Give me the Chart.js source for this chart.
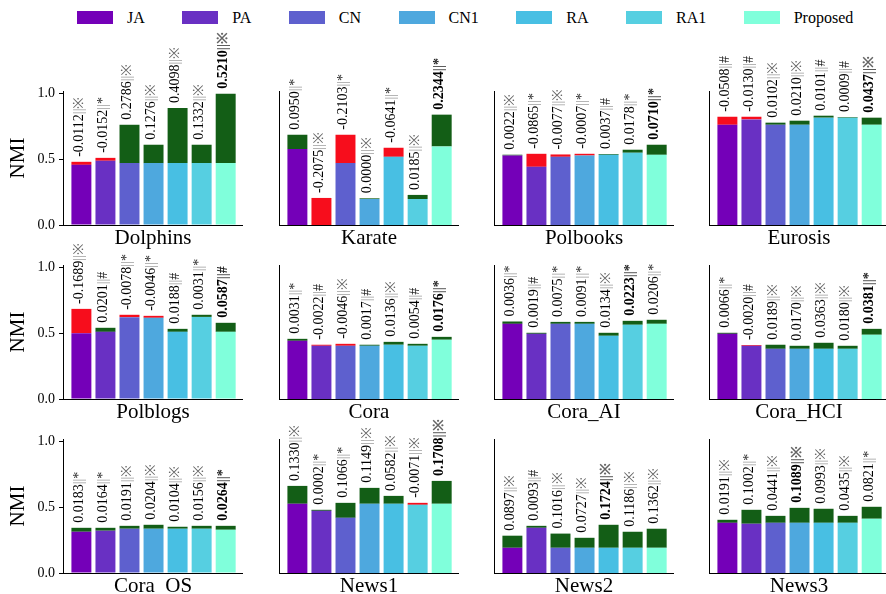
<!DOCTYPE html>
<html>
<head>
<meta charset="utf-8">
<script src="https://cdn.jsdelivr.net/npm/chart.js@4.4.1/dist/chart.umd.min.js"></script>
<style>
  body { margin: 0; width: 886px; height: 594px; overflow: hidden; background: #fff; position: relative; font-family: "Liberation Serif", "Times New Roman", Times, "DejaVu Serif", serif; }
  #legend { position: absolute; left: 77px; top: 8px; display: flex; font-size: 16px; line-height: 19px; color: #000; }
  .item { display: flex; align-items: center; margin-right: 37.5px; }
  .sw { display: inline-block; width: 36px; height: 13px; margin-right: 14px; }
  .panel { position: absolute; }
</style>
</head>
<body>
<div id="legend"></div>
<script>
// methods and colours
const methods = ["JA", "PA", "CN", "CN1", "RA", "RA1", "Proposed"];
const methodColors = ["#7400B8", "#6930C3", "#5E60CE", "#4EA8DE", "#48BFE3", "#56CFE1", "#80FFDB"];
const gainColor = "#135E16";
const lossColor = "#F70D1C";

const networks = ["Dolphins", "Karate", "Polbooks", "Eurosis", "Polblogs", "Cora",
                  "Cora_AI", "Cora_HCI", "Cora_OS", "News1", "News2", "News3"];

// lower part of every bar (NMI)
const baseNMI = [
  [0.458, 0.489, 0.471, 0.471, 0.471, 0.471, 0.471],
  [0.578, 0.000, 0.471, 0.198, 0.519, 0.198, 0.598],
  [0.529, 0.443, 0.519, 0.529, 0.534, 0.550, 0.534],
  [0.763, 0.804, 0.763, 0.763, 0.817, 0.817, 0.763],
  [0.501, 0.511, 0.623, 0.618, 0.511, 0.625, 0.511],
  [0.443, 0.405, 0.405, 0.405, 0.413, 0.405, 0.451],
  [0.572, 0.496, 0.572, 0.572, 0.481, 0.565, 0.572],
  [0.496, 0.405, 0.382, 0.382, 0.382, 0.382, 0.489],
  [0.314, 0.322, 0.337, 0.337, 0.337, 0.337, 0.329],
  [0.527, 0.473, 0.420, 0.527, 0.527, 0.519, 0.527],
  [0.192, 0.344, 0.192, 0.192, 0.192, 0.192, 0.192],
  [0.382, 0.375, 0.382, 0.382, 0.382, 0.382, 0.413]
];
// top of every bar (NMI)
const topNMI = [
  [0.481, 0.511, 0.763, 0.611, 0.891, 0.611, 1.000],
  [0.687, 0.206, 0.687, 0.203, 0.588, 0.229, 0.840],
  [0.535, 0.542, 0.537, 0.542, 0.540, 0.573, 0.611],
  [0.824, 0.824, 0.779, 0.794, 0.832, 0.822, 0.817],
  [0.686, 0.542, 0.641, 0.633, 0.534, 0.641, 0.580],
  [0.458, 0.413, 0.420, 0.413, 0.435, 0.420, 0.473],
  [0.590, 0.504, 0.587, 0.587, 0.504, 0.595, 0.603],
  [0.504, 0.411, 0.413, 0.405, 0.428, 0.405, 0.534],
  [0.344, 0.344, 0.359, 0.367, 0.352, 0.359, 0.359],
  [0.663, 0.481, 0.534, 0.648, 0.587, 0.534, 0.701],
  [0.284, 0.359, 0.300, 0.268, 0.367, 0.314, 0.337],
  [0.405, 0.481, 0.435, 0.496, 0.489, 0.435, 0.504]
];
// printed gain above each bar
const gains = [
  [-0.0112, -0.0152, 0.2786, 0.1276, 0.4098, 0.1332, 0.5210],
  [0.0950, -0.2075, -0.2103, 0.0000, -0.0641, 0.0185, 0.2344],
  [0.0022, -0.0865, -0.0077, -0.0007, 0.0037, 0.0178, 0.0710],
  [-0.0508, -0.0130, 0.0102, 0.0210, 0.0101, 0.0009, 0.0437],
  [-0.1689, 0.0201, -0.0078, -0.0046, 0.0188, 0.0031, 0.0587],
  [0.0031, -0.0022, -0.0046, 0.0017, 0.0136, 0.0054, 0.0176],
  [0.0036, 0.0019, 0.0075, 0.0091, 0.0134, 0.0223, 0.0206],
  [0.0066, -0.0020, 0.0189, 0.0170, 0.0363, 0.0180, 0.0381],
  [0.0183, 0.0164, 0.0191, 0.0204, 0.0104, 0.0156, 0.0264],
  [0.1330, 0.0002, 0.1066, 0.1149, 0.0582, -0.0071, 0.1708],
  [0.0897, 0.0093, 0.1016, 0.0727, 0.1724, 0.1186, 0.1362],
  [0.0191, 0.1002, 0.0441, 0.1089, 0.0993, 0.0435, 0.0821]
];
// significance marks
const marks = [
  ["※", "*", "※", "※", "※", "※", "※"],
  ["*", "※", "*", "※", "*", "※", "*"],
  ["※", "*", "※", "*", "#", "*", "*"],
  ["#", "#", "※", "※", "#", "#", "※"],
  ["※", "#", "*", "*", "#", "*", "#"],
  ["*", "#", "※", "#", "※", "#", "*"],
  ["*", "#", "*", "*", "※", "*", "*"],
  ["*", "#", "※", "※", "※", "※", "*"],
  ["*", "*", "※", "※", "※", "※", "*"],
  ["※", "*", "*", "※", "※", "※", "※"],
  ["※", "#", "※", "※", "※", "※", "※"],
  ["※", "*", "※", "※", "※", "※", "*"]
];
const yTicks = [0, 0.5, 1.0];

const FONT = '"Liberation Serif", "Times New Roman", Times, "DejaVu Serif", serif';
Chart.defaults.font.family = FONT;
Chart.defaults.color = "#000";

// legend
const legend = document.getElementById("legend");
methods.forEach((m, i) => {
  const item = document.createElement("div");
  item.className = "item";
  item.innerHTML = '<span class="sw" style="background:' + methodColors[i] + '"></span><span>' + m + "</span>";
  legend.appendChild(item);
});

// grid of panels
const colLeft = [63, 279, 494, 709];
const rowZero = [225, 399, 573];
const plotW = 180, plotH = 134, padTop = 70, axisH = 34;

function labelPlugin(gain, mark) {
  const best = gain.indexOf(Math.max(...gain));
  return {
    id: "gainLabels",
    afterDatasetsDraw(chart) {
      const ctx = chart.ctx;
      chart.getDatasetMeta(1).data.forEach((bar, i) => {
        const yTop = Math.min(bar.y, bar.base);
        const bold = i === best;
        const parts = [
          [gain[i].toFixed(4), "#000"],
          ["||", bold ? "#555" : "#999"],
          [mark[i], mark[i] === "※" ? "#666" : "#222"]
        ];
        ctx.save();
        ctx.translate(bar.x - 2, yTop - 5);
        ctx.rotate(-Math.PI / 2);
        ctx.textAlign = "left";
        ctx.textBaseline = "middle";
        ctx.font = (bold ? "bold " : "") + "14px " + FONT;
        let pos = 0;
        parts.forEach(([t, col]) => {
          ctx.fillStyle = col;
          ctx.fillText(t, pos, 0);
          pos += ctx.measureText(t).width;
        });
        ctx.restore();
      });
    }
  };
}

networks.forEach((name, k) => {
  const r = Math.floor(k / 4), c = k % 4;
  const axisW = c === 0 ? 63 : 2;
  const div = document.createElement("div");
  div.className = "panel";
  div.style.left = (colLeft[c] - axisW) + "px";
  div.style.top = (rowZero[r] - plotH - padTop) + "px";
  div.style.width = (axisW + plotW) + "px";
  div.style.height = (padTop + plotH + axisH) + "px";
  const canvas = document.createElement("canvas");
  div.appendChild(canvas);
  document.body.appendChild(div);

  const base = baseNMI[k], top = topNMI[k], gain = gains[k];

  new Chart(canvas, {
    type: "bar",
    data: {
      datasets: [
        {
          data: base.map((v, i) => ({ x: i, y: v })),
          backgroundColor: methodColors,
          borderWidth: 0
        },
        {
          data: top.map((v, i) => ({ x: i, y: v - base[i] })),
          backgroundColor: gain.map(g => (g >= 0 ? gainColor : lossColor)),
          borderWidth: 0
        }
      ]
    },
    options: {
      responsive: true,
      maintainAspectRatio: false,
      animation: false,
      layout: { padding: { top: padTop, left: 0, right: 0, bottom: 0 }, autoPadding: false },
      datasets: { bar: { barPercentage: 0.83, categoryPercentage: 1 } },
      plugins: { legend: { display: false }, tooltip: { enabled: false } },
      scales: {
        x: {
          type: "linear",
          offset: false,
          min: -0.765,
          max: 6.72,
          stacked: true,
          grid: { display: false },
          ticks: { display: false },
          border: { display: true, color: "#000", width: 1 },
          afterBuildTicks: s => { s.ticks = methods.map((m, i) => ({ value: i })); },
          afterFit: s => { s.height = axisH; },
          title: { display: true, text: name, color: "#000", font: { size: 21 }, padding: { top: 0, bottom: 8 } }
        },
        y: {
          min: 0,
          max: 1.02,
          stacked: true,
          grid: { display: c === 0, drawOnChartArea: false, drawTicks: true, tickLength: 4, color: "#000" },
          border: { display: true, color: "#000", width: 1 },
          ticks: { display: c === 0, padding: 4, color: "#000", font: { size: 14 }, callback: v => v.toFixed(1) },
          afterBuildTicks: s => { s.ticks = yTicks.map(v => ({ value: v })); },
          afterFit: s => { s.width = axisW; },
          title: { display: c === 0, text: "NMI", color: "#000", font: { size: 21 }, padding: { top: 6, bottom: 0 } }
        }
      }
    },
    plugins: [labelPlugin(gain, marks[k])]
  });
});
</script>
</body>
</html>
